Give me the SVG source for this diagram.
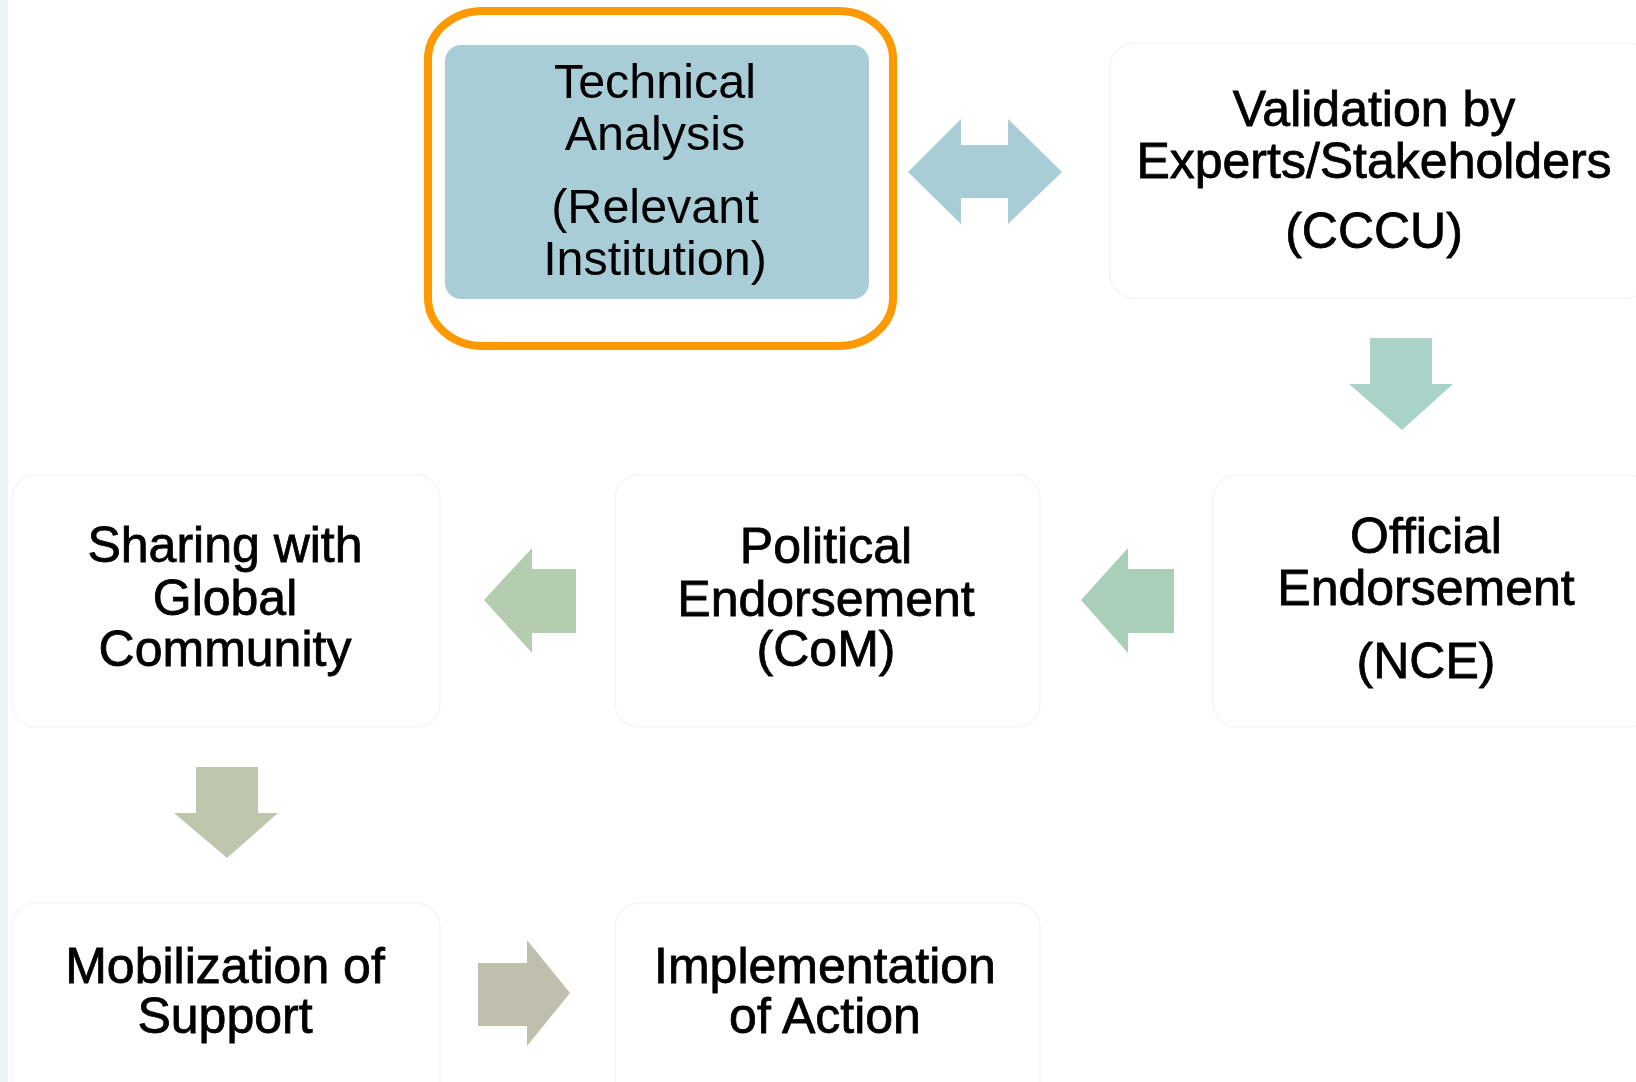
<svg xmlns="http://www.w3.org/2000/svg" width="1636" height="1082" viewBox="0 0 1636 1082">
<style>
.box{fill:#ffffff;stroke:#f2f6f6;stroke-width:1.5}
.t{font-family:"Liberation Sans",Arial,sans-serif;font-size:50px;fill:#000;text-anchor:middle;stroke:#000;stroke-width:0.8}
.tt{font-family:"Liberation Sans",Arial,sans-serif;font-size:48.5px;fill:#000;text-anchor:middle}
</style>
<rect x="0" y="0" width="1636" height="1082" fill="#ffffff"/>
<rect x="0" y="0" width="8" height="1082" fill="#eaf3f6"/>

<g id="technical-analysis">
<rect x="428" y="11" width="465" height="335" rx="55" ry="48" fill="#ffffff" stroke="#ff9900" stroke-width="8"/>
<rect x="445" y="45" width="424" height="254" rx="16" fill="#a9cdd7"/>
<text class="tt" x="655" y="98">Technical</text>
<text class="tt" x="655" y="150">Analysis</text>
<text class="tt" x="655" y="223">(Relevant</text>
<text class="tt" x="655" y="275">Institution)</text>
</g>

<g id="validation">
<rect class="box" x="1110" y="43" width="540" height="255" rx="24"/>
<text class="t" x="1374" y="126">Validation by</text>
<text class="t" x="1374" y="178">Experts/Stakeholders</text>
<text class="t" x="1374" y="248">(CCCU)</text>
</g>

<g id="official-endorsement">
<rect class="box" x="1213" y="475" width="440" height="252" rx="24"/>
<text class="t" x="1426" y="553">Official</text>
<text class="t" x="1426" y="605">Endorsement</text>
<text class="t" x="1426" y="678">(NCE)</text>
</g>

<g id="political-endorsement">
<rect class="box" x="615" y="475" width="425" height="252" rx="24"/>
<text class="t" x="826" y="563">Political</text>
<text class="t" x="826" y="616">Endorsement</text>
<text class="t" x="826" y="666">(CoM)</text>
</g>

<g id="sharing-global">
<rect class="box" x="12" y="475" width="428" height="252" rx="24"/>
<text class="t" x="225" y="562">Sharing with</text>
<text class="t" x="225" y="615">Global</text>
<text class="t" x="225" y="666">Community</text>
</g>

<g id="mobilization">
<rect class="box" x="12" y="903" width="428" height="252" rx="24"/>
<text class="t" x="225" y="983">Mobilization of</text>
<text class="t" x="225" y="1033">Support</text>
</g>

<g id="implementation">
<rect class="box" x="615" y="903" width="425" height="252" rx="24"/>
<text class="t" x="825" y="983">Implementation</text>
<text class="t" x="825" y="1033">of Action</text>
</g>

<g id="connectors">
<polygon fill="#a9cdd7" points="908,172 961,119 961,145 1008,145 1008,119 1062,172 1008,224 1008,198 961,198 961,224"/>
<polygon fill="#a9d3c8" points="1370,338 1432,338 1432,384 1453,384 1402,430 1349,384 1370,384"/>
<polygon fill="#a9cfb8" points="1174,569 1128,569 1128,548 1081,600 1128,653 1128,633 1174,633"/>
<polygon fill="#b4cdae" points="576,569 532,569 532,548 484,600 532,653 532,633 576,633"/>
<polygon fill="#bec7ae" points="196,767 258,767 258,813 278,813 227,858 174,813 196,813"/>
<polygon fill="#c0bfae" points="478,963 527,963 527,940 570,993 527,1046 527,1026 478,1026"/>
</g>
</svg>
